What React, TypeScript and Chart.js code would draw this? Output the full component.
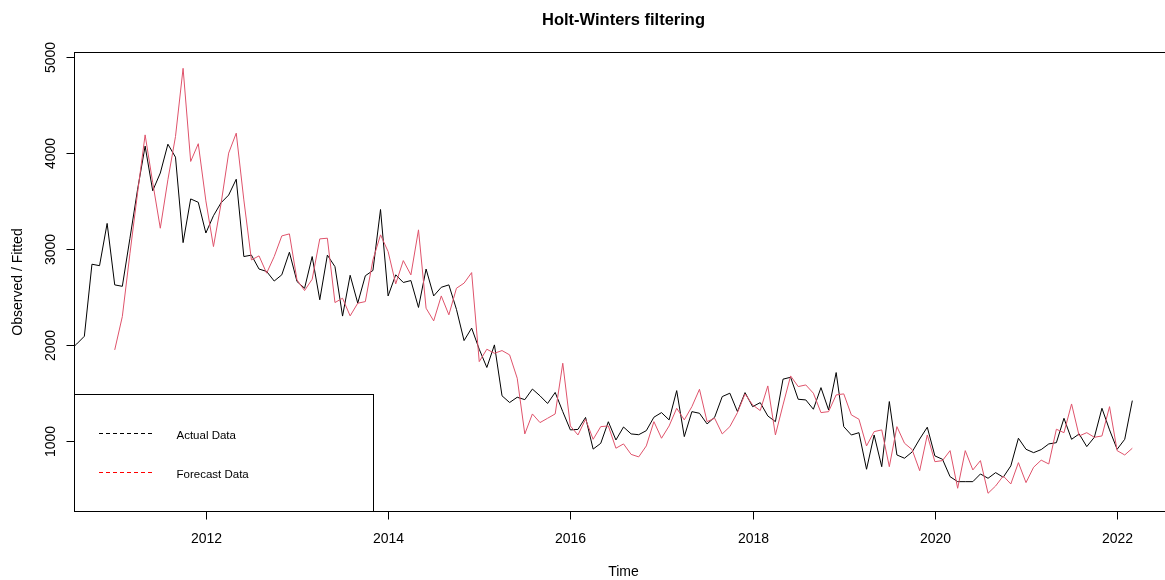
import React, { useEffect, useRef } from "react";
import { Chart, registerables } from "chart.js";

Chart.register(...registerables);

// Monthly series. Observed values begin July 2010, fitted values January 2011.
const observedStart = 2010 + 6 / 12;
const observed = [
  1940, 2010, 2090, 2840, 2825, 3265,
  2625, 2610, 3110, 3615, 4070, 3605, 3790, 4090, 3955, 3065, 3520, 3485,
  3165, 3345, 3480, 3560, 3725, 2920, 2935, 2790, 2765, 2665, 2730, 2965,
  2660, 2590, 2920, 2470, 2935, 2815, 2300, 2725, 2435, 2720, 2775, 3410,
  2510, 2730, 2650, 2670, 2390, 2790, 2510, 2600, 2625, 2370, 2045, 2175,
  1955, 1765, 2000, 1470, 1400, 1455, 1430, 1540, 1470, 1390, 1505, 1305,
  1115, 1120, 1245, 915, 975, 1200, 1010, 1145, 1073, 1065, 1107, 1247,
  1295, 1219, 1524, 1045, 1305, 1288, 1177, 1247, 1462, 1497, 1305, 1503,
  1357, 1399, 1260, 1201, 1643, 1663, 1434, 1427, 1330, 1555, 1323, 1712,
  1149, 1062, 1086, 705, 1062, 732, 1410, 854, 820, 885, 1020, 1143,
  844, 809, 628, 576, 576, 576, 656, 611, 670, 622, 740, 1028,
  913, 878, 910, 969, 982, 1236, 1017, 1073, 941, 1038, 1340, 1115,
  913, 1017, 1420,
];

const fittedStart = 2011;
const fitted = [
  1948, 2295, 2950, 3580, 4187, 3690, 3215, 3720, 4170, 4880, 3910, 4095,
  3500, 3024, 3470, 3997, 4205, 3510, 2885, 2927, 2747, 2920, 3135, 3156,
  2677, 2566, 2684, 3104, 3111, 2441, 2486, 2302, 2434, 2451, 2885, 3146,
  2972, 2635, 2878, 2729, 3198, 2382, 2250, 2510, 2313, 2590, 2643, 2753,
  1826, 1955, 1913, 1941, 1896, 1653, 1073, 1281, 1191, 1236, 1281, 1809,
  1156, 1062, 1226, 1017, 1149, 1156, 924, 969, 860, 834, 948, 1201,
  1028, 1156, 1340, 1219, 1357, 1538, 1201, 1236, 1073, 1149, 1295, 1490,
  1375, 1316, 1573, 1062, 1375, 1677, 1566, 1583, 1497, 1295, 1305, 1479,
  1490, 1271, 1226, 948, 1097, 1115, 732, 1149, 976, 910, 690, 1062,
  784, 795, 899, 507, 899, 698, 795, 455, 531, 635, 552, 774,
  566, 726, 800, 760, 1122, 1086, 1385, 1052, 1086, 1038, 1052, 1357,
  899, 854, 924,
];

const yearTicks = [2012, 2014, 2016, 2018, 2020, 2022];
const valueTicks = [1000, 2000, 3000, 4000, 5000];
const legendLabels = ["Actual Data", "Forecast Data"];
const legendColors = ["#000000", "#ff0000"];
const titleText = "Holt-Winters filtering";
const xTitle = "Time";
const yTitle = "Observed / Fitted";

const FONT = '"Liberation Sans", Arial, Helvetica, sans-serif';

const toPoints = (start: number, values: number[]) =>
  values.map((v, i) => ({ x: start + i / 12, y: v }));

// Draws the R-style frame: box, ticks, labels, titles and the legend box.
const basePlotFrame = {
  id: "basePlotFrame",
  afterDatasetsDraw(chart: any) {
    const { ctx, chartArea: a, scales } = chart;
    const xs = scales.x;
    const ys = scales.y;
    const L = Math.round(a.left) + 0.5;
    const T = Math.round(a.top) + 0.5;
    const B = Math.round(a.bottom) - 0.5;
    const R = Math.round(a.right) - 0.5;

    const seg = (x1: number, y1: number, x2: number, y2: number) => {
      ctx.beginPath();
      ctx.moveTo(x1, y1);
      ctx.lineTo(x2, y2);
      ctx.stroke();
    };

    ctx.save();
    ctx.strokeStyle = "#000";
    ctx.lineWidth = 1;
    ctx.setLineDash([]);
    ctx.strokeRect(L, T, R - L, B - T);

    ctx.fillStyle = "#000";
    ctx.font = `14px ${FONT}`;
    ctx.textAlign = "center";
    ctx.textBaseline = "alphabetic";

    // bottom axis
    yearTicks.forEach((t) => {
      const px = Math.round(xs.getPixelForValue(t)) + 0.5;
      seg(px, B, px, B + 8);
      ctx.fillText(String(t), px, 542.5);
    });

    // left axis, labels rotated
    valueTicks.forEach((v) => {
      const py = Math.round(ys.getPixelForValue(v)) + 0.5;
      seg(L - 8, py, L, py);
      ctx.save();
      ctx.translate(55, py);
      ctx.rotate(-Math.PI / 2);
      ctx.fillText(String(v), 0, 0);
      ctx.restore();
    });

    const cx = (a.left + a.right) / 2;
    const cy = (a.top + a.bottom) / 2;

    ctx.fillText(xTitle, cx, 576);
    ctx.save();
    ctx.translate(21.5, cy);
    ctx.rotate(-Math.PI / 2);
    ctx.fillText(yTitle, 0, 0);
    ctx.restore();

    ctx.font = `bold 16.5px ${FONT}`;
    ctx.fillText(titleText, cx, 25);

    // legend
    const boxRight = 373.5;
    const boxTop = 394.5;
    ctx.fillStyle = "#fff";
    ctx.fillRect(L, boxTop, boxRight - L, B - boxTop);
    ctx.strokeStyle = "#000";
    ctx.strokeRect(L, boxTop, boxRight - L, B - boxTop);

    ctx.font = `11.5px ${FONT}`;
    ctx.textAlign = "left";
    const rows = [433.5, 472.5];
    legendLabels.forEach((label, i) => {
      ctx.strokeStyle = legendColors[i];
      ctx.setLineDash([4, 3]);
      seg(99, rows[i], 153, rows[i]);
      ctx.setLineDash([]);
      ctx.fillStyle = "#000";
      ctx.fillText(label, 176.5, rows[i] + 5);
    });

    ctx.restore();
  },
};

export default function App() {
  const canvasRef = useRef<HTMLCanvasElement>(null);

  useEffect(() => {
    const canvas = canvasRef.current;
    if (!canvas) return;
    const chart = new Chart(canvas, {
      type: "line",
      data: {
        datasets: [
          {
            label: "Fitted",
            data: toPoints(fittedStart, fitted),
            borderColor: "#DF536B",
            borderWidth: 1,
            pointRadius: 0,
            tension: 0,
            fill: false,
          },
          {
            label: "Observed",
            data: toPoints(observedStart, observed),
            borderColor: "#000000",
            borderWidth: 1,
            pointRadius: 0,
            tension: 0,
            fill: false,
          },
        ],
      },
      options: {
        responsive: false,
        maintainAspectRatio: false,
        devicePixelRatio: 1,
        animation: false,
        events: [],
        layout: { padding: { left: 74, top: 52, right: 7, bottom: 68 } },
        plugins: {
          legend: { display: false },
          tooltip: { enabled: false },
          title: { display: false },
        },
        scales: {
          x: { type: "linear", display: false, min: 2010.553, max: 2022.613 },
          y: { type: "linear", display: false, min: 260, max: 5050 },
        },
      },
      plugins: [basePlotFrame],
    });
    return () => chart.destroy();
  }, []);

  return (
    <div
      style={{
        position: "fixed",
        left: 0,
        top: 0,
        width: 1165,
        height: 580,
        overflow: "hidden",
        background: "#fff",
      }}
    >
      <canvas
        ref={canvasRef}
        width={1180}
        height={580}
        style={{ display: "block", width: 1180, height: 580 }}
      />
    </div>
  );
}
